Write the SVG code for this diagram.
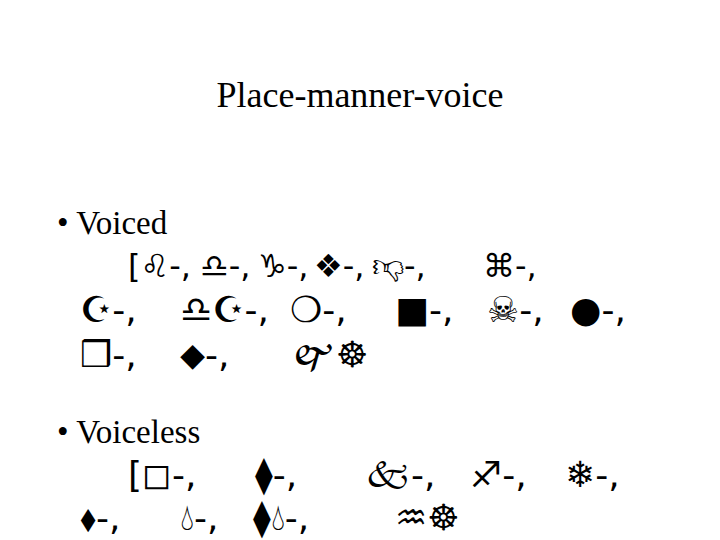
<svg xmlns="http://www.w3.org/2000/svg" width="720" height="540" viewBox="0 0 720 540">
<style>
text{font-family:"Liberation Serif","DejaVu Serif",serif;fill:#000}
.t{font-size:36px}
.b{font-size:33px}
.s{font-size:36px;font-family:"DejaVu Sans","Noto Sans",sans-serif}
.s1{font-size:32px}
</style>
<rect width="720" height="540" fill="#fff"/>
<g id="title"><text class="t" x="360" y="107" text-anchor="middle">Place-manner-voice</text></g>
<g id="voiced">
<text class="b" x="57" y="234">• Voiced</text>
<text class="s s1" y="277"><tspan x="128">[♌-,</tspan><tspan x="200">♎-,</tspan><tspan x="258">♑-,</tspan><tspan x="314">❖-,</tspan><tspan x="372">👎︎-,</tspan><tspan x="483">⌘-,</tspan></text>
<text class="s" y="322"><tspan x="80">☪-,</tspan><tspan x="180">♎☪-,</tspan><tspan x="290">❍-,</tspan><tspan x="395">■-,</tspan><tspan x="487">☠-,</tspan><tspan x="570">●-,</tspan></text>
<text class="s" y="367"><tspan x="80">❒-,</tspan><tspan x="180">⬥-,</tspan><tspan x="290">🙰☸</tspan></text>
</g>
<g id="voiceless">
<text class="b" x="57" y="443">• Voiceless</text>
<text class="s" y="487"><tspan x="128">[◻-,</tspan><tspan x="255">⧫-,</tspan><tspan x="365">🙵-,</tspan><tspan x="470">♐-,</tspan><tspan x="565">❄-,</tspan></text>
<text class="s" y="530"><tspan x="80">⬧-,</tspan><tspan x="180">💧︎-,</tspan><tspan x="253">⧫💧︎-,</tspan><tspan x="395">♒☸</tspan></text>
</g>
</svg>
